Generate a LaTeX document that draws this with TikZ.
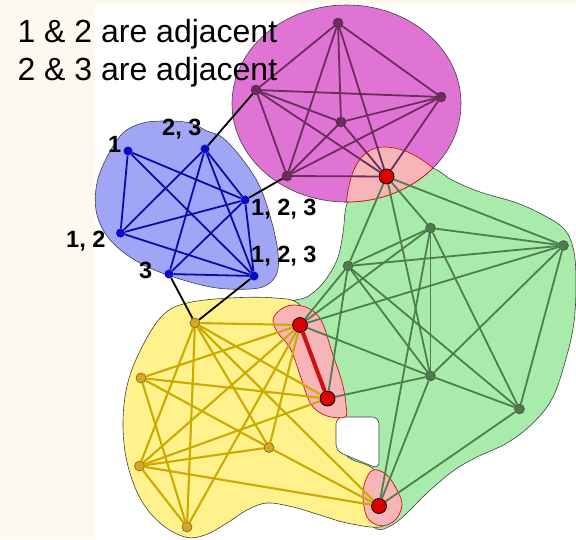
\documentclass[tikz,border=0pt]{standalone}
\usepackage{fontspec}
\setmainfont{Liberation Sans}
\definecolor{cream}{HTML}{FDF9EE}
\definecolor{magfill}{HTML}{E074D4}
\definecolor{magdark}{HTML}{6B2D5C}
\definecolor{bluefill}{HTML}{A0A5F5}
\definecolor{blueedge}{HTML}{0B0BA5}
\definecolor{bluenode}{HTML}{0A0AC8}
\definecolor{greenfill}{HTML}{A8EBAA}
\definecolor{greenedge}{HTML}{4E7E4E}
\definecolor{greennode}{HTML}{4F7A4F}
\definecolor{yellowfill}{HTML}{FFF18C}
\definecolor{yellowedge}{HTML}{CCAA00}
\definecolor{yellownode}{HTML}{D4A820}
\definecolor{pinkfill}{HTML}{F8B5B8}
\definecolor{pinkedge}{HTML}{CC1111}
\definecolor{rednode}{HTML}{DD0000}
\begin{document}
\begin{tikzpicture}[x=1pt,y=-1pt,
  blob/.style={draw=black!75, line width=0.6pt},
  pinkblob/.style={fill=pinkfill, draw=pinkedge, line width=0.7pt},
  mnode/.style={circle, fill=magdark, draw=magdark!60!black, line width=0.4pt, inner sep=0pt, minimum size=10pt},
  bnode/.style={circle, fill=bluenode, inner sep=0pt, minimum size=9pt},
  gnode/.style={circle, fill=greennode, draw=greennode!60!black, line width=0.4pt, inner sep=0pt, minimum size=10pt},
  ynode/.style={circle, fill=yellownode, draw=yellownode!50!black, line width=0.5pt, inner sep=0pt, minimum size=10pt},
  rnode/.style={circle, fill=rednode, draw=black, line width=0.8pt, inner sep=0pt, minimum size=15pt},
  medge/.style={draw=magdark, line width=1.8pt},
  bedge/.style={draw=blueedge, line width=1.8pt},
  gedge/.style={draw=greenedge, line width=1.8pt},
  yedge/.style={draw=yellowedge, line width=2.1pt},
  kedge/.style={draw=black, line width=1.8pt},
  redge/.style={draw=pinkedge, line width=4pt},
  lbl/.style={anchor=base west, inner sep=0pt, font=\fontsize{23.5}{27}\selectfont\bfseries},
  title/.style={anchor=base west, inner sep=0pt, font=\fontsize{32}{36}\selectfont}]
\useasboundingbox (0,0) rectangle (576,539);
\fill[cream] (0,0) rectangle (576,539);
\fill[white] (95,4) rectangle (576,539);

% green region
\path[blob, fill=greenfill] plot[smooth cycle, tension=0.6] coordinates {
 (347,204) (362,178) (395,163) (432,168) (452,180) (480,192) (517,203) (545,216)
 (565,230) (574,252) (576,285) (574,322) (567,355) (553,397) (533,423) (507,443)
 (477,457) (453,471) (427,493) (408,512) (392,525) (375,528) (355,500) (310,420)
 (285,335) (290,304) (307,297) (323,283) (337,260) (343,233)};
% yellow region
\path[blob, fill=yellowfill] plot[smooth cycle, tension=0.6] coordinates {
 (187,303) (230,298) (275,298) (300,305) (320,340) (335,390) (340,425) (346,455)
 (372,468) (386,490) (390,515) (380,527) (347,523) (320,515) (293,507) (267,503)
 (247,510) (227,523) (205,535) (185,537) (160,523) (140,498) (127,462) (123,422)
 (128,382) (143,345) (163,315)};
% hole
\path[blob, fill=white, rounded corners=7pt] (336,417) -- (379,417) -- (379,469) -- (336,451) -- cycle;
% magenta region
\path[blob, fill=magfill] (346.5,103.5) ellipse [x radius=114.5, y radius=98.5];
% blue region
\path[blob, fill=bluefill] plot[smooth cycle, tension=0.6] coordinates {
 (167,121) (190,123) (207,131) (223,138) (243,160) (260,187) (272,223) (278,253)
 (277,273) (267,285) (250,289) (217,288) (183,280) (150,268) (123,252) (105,233)
 (96,210) (97,183) (107,157) (123,133) (143,123)};
% pink overlaps
\path[pinkblob] (346.5,202) .. controls (350,166) and (363,147) .. (384,147)
  .. controls (404,147) and (421,158) .. (433,168)
  arc[start angle=40.9, end angle=90, x radius=114.5, y radius=98.5] -- cycle;
\path[pinkblob] plot[smooth cycle, tension=0.6] coordinates {
 (273,320) (280,310) (293,305) (310,309) (322,322) (332,352) (342,382) (346,405)
 (345,417) (327,416) (313,407) (306,393) (299,372) (290,348) (278,333)};
\path[pinkblob] plot[smooth cycle, tension=0.6] coordinates {
 (363,498) (365,482) (373,470) (387,475) (398,492) (402,505) (397,518) (387,525)
 (377,525) (367,517)};

% nodes
\node[mnode] (m1) at (338,23) {};
\node[mnode] (m2) at (256,90) {};
\node[mnode] (m3) at (441,97) {};
\node[mnode] (m4) at (341,122) {};
\node[mnode] (m5) at (287,176) {};
\node[bnode] (b1) at (128,151) {};
\node[bnode] (b2) at (205,149) {};
\node[bnode] (b3) at (245,200) {};
\node[bnode] (b4) at (120.5,233) {};
\node[bnode] (b5) at (169,274) {};
\node[bnode] (b6) at (254,276) {};
\node[gnode] (g1) at (430.5,228) {};
\node[gnode] (g2) at (563.5,245.5) {};
\node[gnode] (g3) at (348,266) {};
\node[gnode] (g4) at (430.5,376) {};
\node[gnode] (g5) at (519.5,409) {};
\node[ynode] (y1) at (195,323) {};
\node[ynode] (y2) at (141,378) {};
\node[ynode] (y3) at (139.5,466) {};
\node[ynode] (y4) at (187,527) {};
\node[ynode] (y5) at (269,447.5) {};
\node[rnode] (r1) at (386.5,176.5) {};
\node[rnode] (r2) at (300,325) {};
\node[rnode] (r3) at (327.5,398.5) {};
\node[rnode] (r4) at (379,506) {};

% magenta edges (complete)
\foreach \a/\b in {m1/m2,m1/m3,m1/m4,m1/m5,m1/r1,m2/m3,m2/m4,m2/m5,m2/r1,
                   m3/m4,m3/m5,m3/r1,m4/m5,m4/r1,m5/r1}
  \draw[medge] (\a) -- (\b);
% blue edges
\foreach \a/\b in {b1/b3,b1/b4,b1/b6,b2/b3,b2/b4,b2/b5,b2/b6,b3/b4,b3/b5,b3/b6,b4/b6,b5/b6}
  \draw[bedge] (\a) -- (\b);
% green edges
\foreach \a/\b in {r1/g1,r1/g2,r1/g3,r1/g4,g1/g2,g1/g3,g1/g4,g1/g5,g1/r2,g1/r4,
                   g2/g3,g2/g4,g2/g5,g2/r2,g3/g4,g3/g5,g3/r2,g3/r3,g4/g5,g4/r2,g4/r3,g4/r4,g5/r4}
  \draw[gedge] (\a) -- (\b);
% yellow edges
\foreach \a/\b in {y1/r2,y1/r3,y1/r4,y1/y3,y1/y4,y1/y5,y2/r2,y2/r3,y2/y5,y2/y4,
                   y3/r2,y3/r3,y3/y5,y3/r4,y3/y4,y4/r2,y5/r2,y5/r4}
  \draw[yedge] (\a) -- (\b);
% connectors between clusters
\draw[kedge] (m2) -- (b2);
\draw[kedge] (m5) -- (b3);
\draw[kedge] (b5) -- (y1);
\draw[kedge] (b6) -- (y1);
% shared edge
\draw[redge] (r2) -- (r3);

% labels
\node[lbl] (l1) at (108,152) {1};
\node[lbl] (l23) at (162,135) {2, 3};
\node[lbl] (l123a) at (251,215) {1, 2, 3};
\node[lbl] (l12) at (66,247) {1, 2};
\node[lbl] (l123b) at (251,262.5) {1, 2, 3};
\node[lbl] (l3) at (139,278) {3};

\node[title] (t1) at (17.3,42.7) {1 \& 2 are adjacent};
\node[title] (t2) at (17.3,80) {2 \& 3 are adjacent};
\end{tikzpicture}
\end{document}
